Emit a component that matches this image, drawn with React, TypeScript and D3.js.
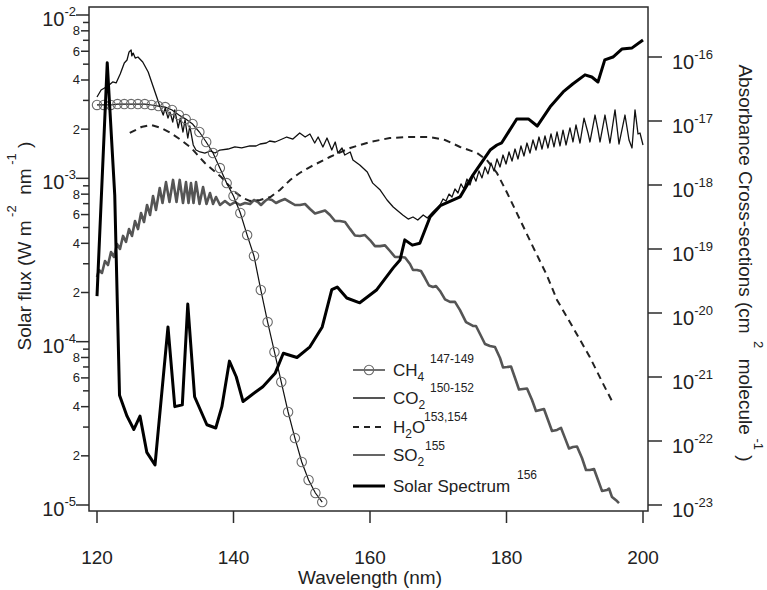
import React from 'react';
import * as d3 from 'd3';

type Pt = [number, number];

// Solar spectrum (W m^-2 nm^-1), left axis
const solarSpectrum: Pt[] = [
  [120.0, 1.9e-4], [121.5, 5.1e-3], [122.6, 7.9e-4], [123.3, 4.7e-5], [124.4, 3.5e-5], [125.4, 2.9e-5],
  [126.3, 3.5e-5], [127.3, 2.1e-5], [128.5, 1.76e-5], [130.4, 1.23e-4], [131.4, 4.0e-5], [132.5, 4.1e-5],
  [133.3, 1.7e-4], [134.3, 4.6e-5], [136.1, 3.1e-5], [137.4, 2.96e-5], [138.3, 4.0e-5], [139.4, 7.6e-5],
  [140.4, 6.1e-5], [141.4, 4.3e-5], [142.6, 4.7e-5], [144.3, 5.3e-5], [146.1, 6.4e-5], [147.3, 8.5e-5],
  [149.3, 8.0e-5], [151.2, 9.3e-5], [153.0, 1.23e-4], [154.4, 2.08e-4], [155.2, 2.16e-4], [156.6, 1.85e-4],
  [158.5, 1.73e-4], [161.0, 2.08e-4], [163.4, 2.83e-4], [164.4, 3.16e-4], [165.1, 4.2e-4], [166.2, 3.9e-4],
  [167.3, 4.0e-4], [168.8, 5.8e-4], [170.3, 6.8e-4], [173.2, 7.7e-4], [175.1, 1.05e-3], [177.6, 1.49e-3],
  [178.6, 1.6e-3], [179.3, 1.65e-3], [181.5, 2.31e-3], [183.2, 2.31e-3], [184.5, 2.09e-3], [186.4, 2.74e-3],
  [188.3, 3.38e-3], [189.7, 3.78e-3], [191.5, 4.3e-3], [192.5, 4.17e-3], [193.4, 3.89e-3], [194.4, 5.31e-3],
  [195.6, 5.53e-3], [196.9, 6.19e-3], [198.4, 6.29e-3], [200.0, 7.03e-3],
];

// CH4 cross-section (cm^2 molecule^-1), right axis
const ch4: Pt[] = [
  [120, 1.78e-17], [121, 1.78e-17], [122, 1.78e-17], [123, 1.84e-17], [124, 1.84e-17], [125, 1.84e-17],
  [126, 1.84e-17], [127, 1.84e-17], [128, 1.78e-17], [129, 1.71e-17], [130, 1.65e-17], [131, 1.49e-17],
  [132, 1.24e-17], [133, 1.07e-17], [134, 8.97e-18], [135, 6.73e-18], [136, 4.7e-18], [137, 3.16e-18],
  [138, 1.84e-18], [139, 1.07e-18], [140, 6.73e-19], [141, 3.65e-19], [142, 1.65e-19], [143, 7.78e-20],
  [144, 2.29e-20], [145, 7.22e-21], [146, 2.46e-21], [147, 8.35e-22], [148, 2.84e-22], [149, 1.11e-22],
  [150, 4.7e-23], [151, 2.46e-23], [152, 1.54e-23], [153, 1.11e-23],
];

// CO2 cross-section
const co2: Pt[] = [
  [120.0, 3.65e-20], [120.29, 4.7e-20], [120.73, 4.22e-20], [121.17, 6.5e-20], [121.61, 5.62e-20], [122.05, 8.97e-20],
  [122.49, 7.5e-20], [122.93, 1.2e-19], [123.37, 1.0e-19], [123.81, 1.6e-19], [124.25, 1.29e-19], [124.69, 2.05e-19],
  [125.13, 1.6e-19], [125.57, 2.74e-19], [126.01, 2.05e-19], [126.45, 3.65e-19], [126.89, 2.64e-19], [127.33, 4.87e-19],
  [127.77, 3.4e-19], [128.21, 6.73e-19], [128.64, 4.07e-19], [129.19, 8.97e-19], [129.6, 5.23e-19], [130.11, 1.11e-18],
  [130.62, 5.42e-19], [131.14, 1.2e-18], [131.65, 5.42e-19], [132.12, 1.2e-18], [132.6, 5.23e-19], [133.04, 1.11e-18],
  [133.41, 5.23e-19], [133.77, 1.07e-18], [134.14, 5.23e-19], [134.51, 1.11e-18], [135.02, 5.05e-19], [135.54, 9.31e-19],
  [136.04, 5.05e-19], [136.56, 7.5e-19], [137.0, 5.05e-19], [137.44, 6.5e-19], [138.02, 4.87e-19],
  [138.75, 5.62e-19], [139.49, 4.87e-19], [140.22, 5.42e-19], [140.95, 4.87e-19], [141.68, 5.23e-19],
  [142.42, 5.05e-19], [143.0, 5.83e-19], [143.59, 5.42e-19], [144.03, 4.87e-19], [144.62, 5.62e-19], [145.05, 6.04e-19],
  [145.64, 5.83e-19], [146.23, 5.23e-19], [146.81, 5.62e-19], [147.55, 6.04e-19], [148.28, 5.42e-19], [149.01, 4.87e-19],
  [149.74, 4.87e-19], [150.48, 5.05e-19], [151.21, 4.22e-19], [151.94, 3.59e-19], [152.67, 3.79e-19], [153.41, 4.0e-19],
  [154.14, 3.4e-19], [154.87, 2.74e-19], [155.6, 2.74e-19], [156.34, 2.64e-19], [157.07, 2.06e-19], [157.8, 1.63e-19],
  [158.53, 1.6e-19], [159.27, 1.65e-19], [160.0, 1.38e-19], [160.73, 1.11e-19], [161.47, 1.11e-19], [162.2, 1.14e-19],
  [162.93, 9.31e-20], [163.66, 7.5e-20], [164.4, 7.5e-20], [165.13, 7.36e-20], [165.86, 5.83e-20], [166.3, 4.7e-20],
  [166.89, 4.7e-20], [167.47, 4.53e-20], [168.06, 3.52e-20], [168.64, 2.69e-20], [169.23, 2.55e-20], [169.67, 2.64e-20],
  [170.26, 2.21e-20], [170.99, 1.63e-20], [171.72, 1.49e-20], [172.45, 1.49e-20], [173.19, 1.11e-20], [174.07, 7.22e-21],
  [175.09, 6.27e-21], [175.53, 6.27e-21], [176.12, 4.7e-21], [176.85, 3.28e-21], [177.58, 3.05e-21], [178.31, 2.94e-21],
  [179.05, 1.98e-21], [179.49, 1.41e-21], [180.07, 1.43e-21], [180.66, 1.46e-21], [181.25, 9.64e-22], [181.83, 6.38e-22],
  [182.42, 6.5e-22], [183.01, 6.61e-22], [183.74, 4.37e-22], [184.32, 2.94e-22], [184.91, 3.05e-22], [185.49, 3.16e-22],
  [186.08, 2.13e-22], [186.67, 1.43e-22], [187.4, 1.49e-22], [187.99, 1.6e-22], [188.57, 1.11e-22], [189.16, 7.64e-23],
  [189.74, 8.05e-23], [190.33, 8.2e-23], [191.06, 5.42e-23], [191.65, 3.52e-23], [192.23, 3.52e-23], [192.82, 3.65e-23],
  [193.41, 2.46e-23], [193.99, 1.66e-23], [194.73, 1.71e-23], [195.02, 1.81e-23], [195.46, 1.33e-23], [196.19, 1.15e-23],
  [196.48, 1.07e-23],
];

// H2O cross-section
const h2o: Pt[] = [
  [124.8, 6.5e-18], [126.5, 8.05e-18], [127.9, 8.67e-18], [129.4, 7.78e-18], [130.8, 6.5e-18], [132.3, 5.05e-18],
  [133.8, 3.79e-18], [135.8, 2.21e-18], [138.2, 1.33e-18], [140.2, 7.78e-19], [141.4, 6.27e-19], [142.4, 5.62e-19],
  [143.9, 5.83e-19], [145.4, 6.5e-19], [146.8, 8.35e-19], [148.3, 1.2e-18], [149.7, 1.54e-18], [151.2, 1.91e-18],
  [154.1, 2.74e-18], [157.1, 3.79e-18], [160.0, 4.7e-18], [162.9, 5.42e-18], [165.9, 5.62e-18], [168.8, 5.62e-18],
  [171.0, 5.05e-18], [173.2, 3.93e-18], [175.7, 3.16e-18], [177.1, 2.46e-18], [178.6, 1.54e-18], [180.1, 7.5e-19],
  [182.0, 2.84e-19], [183.9, 1.07e-19], [185.9, 3.93e-20], [187.4, 1.6e-20], [189.7, 6.04e-21], [192.2, 2.06e-21],
  [194.1, 8.05e-22], [195.6, 3.93e-22],
];

// SO2 cross-section
const so2: Pt[] = [
  [120.0, 2.37e-17], [120.6, 3.05e-17], [121.6, 3.52e-17], [122.3, 4.07e-17], [122.8, 3.93e-17], [123.4, 5.42e-17],
  [124.0, 8.05e-17], [124.4, 8.97e-17], [124.7, 1.2e-16], [125.0, 1.29e-16], [125.1, 1.04e-16], [125.3, 1.15e-16],
  [125.6, 9.64e-17], [126.0, 1.0e-16], [126.7, 8.35e-17], [127.5, 5.83e-17], [128.2, 3.52e-17], [128.8, 2.29e-17],
  [129.2, 1.71e-17], [129.7, 1.24e-17], [130.0, 1.6e-17], [130.4, 1.11e-17], [130.7, 1.38e-17], [131.1, 9.64e-18],
  [131.4, 1.49e-17], [131.9, 7.78e-18], [132.2, 1.11e-17], [132.6, 6.73e-18], [132.9, 1.04e-17], [133.3, 5.42e-18],
  [133.6, 8.35e-18], [134.1, 4.22e-18], [134.5, 3.52e-18], [135.1, 3.28e-18], [135.8, 3.16e-18], [136.6, 3.4e-18],
  [137.3, 3.16e-18], [138.0, 3.52e-18], [139.2, 3.65e-18], [140.2, 3.93e-18], [141.2, 3.79e-18], [142.4, 4.07e-18],
  [143.3, 4.07e-18], [143.9, 4.37e-18], [144.8, 4.53e-18], [145.3, 4.87e-18], [146.1, 4.7e-18], [146.8, 5.05e-18],
  [147.8, 5.62e-18], [148.7, 5.23e-18], [149.7, 6.5e-18], [150.5, 5.62e-18], [151.2, 6.27e-18], [151.9, 4.53e-18],
  [152.4, 5.62e-18], [153.1, 3.93e-18], [153.7, 5.42e-18], [154.4, 3.52e-18], [154.9, 4.7e-18], [155.3, 3.16e-18],
  [155.9, 3.79e-18], [156.3, 2.94e-18], [157.1, 3.28e-18], [157.5, 2.46e-18], [158.5, 2.06e-18], [159.6, 1.6e-18],
  [160.4, 1.07e-18], [161.5, 8.35e-19], [162.5, 5.83e-19], [163.4, 4.53e-19], [164.8, 3.4e-19], [165.6, 2.94e-19],
  [166.3, 3.16e-19], [167.0, 2.84e-19], [167.8, 3.4e-19], [168.4, 3.05e-19], [169.2, 3.79e-19],
  [170.26, 4.87e-19], [170.7, 6.04e-19], [171.14, 5.62e-19], [171.58, 7.22e-19], [172.01, 6.5e-19], [172.45, 8.66e-19],
  [172.89, 7.5e-19], [173.33, 1.04e-18], [173.77, 8.66e-19], [174.21, 1.24e-18], [174.65, 1.0e-18], [175.09, 1.43e-18],
  [175.53, 1.15e-18], [175.97, 1.66e-18], [176.41, 1.29e-18], [176.85, 1.91e-18], [177.29, 1.49e-18], [177.73, 2.21e-18],
  [178.17, 1.66e-18], [178.61, 2.55e-18], [179.05, 1.91e-18], [179.49, 2.94e-18], [179.93, 2.13e-18], [180.37, 3.28e-18],
  [180.81, 2.37e-18], [181.25, 3.65e-18], [181.68, 2.55e-18], [182.12, 4.07e-18], [182.56, 2.84e-18], [183.0, 4.53e-18],
  [183.44, 3.16e-18], [183.88, 5.05e-18], [184.32, 3.52e-18], [184.76, 5.62e-18], [185.2, 3.65e-18], [185.64, 5.83e-18],
  [186.08, 3.79e-18], [186.52, 6.27e-18], [186.96, 3.93e-18], [187.4, 6.73e-18], [187.84, 4.07e-18], [188.28, 7.22e-18],
  [188.72, 4.22e-18], [189.3, 7.78e-18], [189.74, 4.7e-18], [190.18, 8.66e-18], [190.77, 4.53e-18], [191.36, 1.11e-17],
  [191.94, 6.5e-18], [192.23, 4.7e-18], [192.97, 1.24e-17], [193.41, 7.22e-18], [193.7, 4.7e-18], [194.43, 1.24e-17],
  [194.87, 6.73e-18], [195.16, 4.53e-18], [195.9, 1.49e-17], [196.48, 4.37e-18], [197.36, 1.24e-17], [197.95, 5.05e-18],
  [198.39, 3.79e-18], [198.83, 1.49e-17], [199.27, 6.27e-18], [199.56, 6.5e-18], [200.0, 4.22e-18],
];

const xTickValues = [120, 140, 160, 180, 200];
const leftDecadeExps = [-5, -4, -3, -2];
const rightDecadeExps = [-23, -22, -21, -20, -19, -18, -17, -16];
const minorMultipliers = [2, 3, 4, 5, 6, 7, 8, 9];
const labeledMinor = [2, 4, 6, 8];

const legendItems = [
  { key: 'ch4', main: 'CH', sub: '4', rest: '', ref: '147-149' },
  { key: 'co2', main: 'CO', sub: '2', rest: '', ref: '150-152' },
  { key: 'h2o', main: 'H', sub: '2', rest: 'O', ref: '153,154' },
  { key: 'so2', main: 'SO', sub: '2', rest: '', ref: '155' },
  { key: 'solar', main: 'Solar Spectrum', sub: '', rest: '', ref: '156' },
];

const FONT = '"Liberation Sans", Arial, Helvetica, sans-serif';
const AX = '#2b2b2b';
const CO2_COLOR = '#555555';

export default function App() {
  const frame = { left: 89, right: 648, top: 7, bottom: 511 };
  const x = d3.scaleLinear().domain([120, 200]).range([97, 643]);
  const yL = d3.scaleLog().domain([1e-5, 1e-2]).range([505, 15]);
  const yR = d3.scaleLog().domain([1e-23, 1e-16]).range([505, 57]);

  const lineL = d3.line<Pt>().x(d => x(d[0])).y(d => yL(d[1]));
  const lineR = d3.line<Pt>().x(d => x(d[0])).y(d => yR(d[1]));

  const leftMinor: number[] = [];
  for (const e of [-5, -4, -3]) for (const m of minorMultipliers) leftMinor.push(m * Math.pow(10, e));

  const legX1 = 353, legX2 = 385, legText = 393;
  const legRows = [370, 398, 427, 455, 486];
  const refPos: [number, number][] = [[430, 363], [430, 392], [424, 421], [425, 450], [517, 479]];

  return (
    <svg width={767} height={590} style={{ position: 'absolute', left: 0, top: 0, background: '#fff' }}
      fontFamily={FONT}>
      <rect x={0} y={0} width={767} height={590} fill="#fff" />
      {/* data */}
      <path d={lineR(co2) || ''} fill="none" stroke={CO2_COLOR} strokeWidth={2.6} strokeLinejoin="round" />
      <path d={lineR(h2o) || ''} fill="none" stroke="#222" strokeWidth={2} strokeDasharray="7,5" />
      <path d={lineR(so2) || ''} fill="none" stroke="#111" strokeWidth={1.3} strokeLinejoin="round" />
      <path d={lineR(ch4) || ''} fill="none" stroke="#111" strokeWidth={1.2} />
      {ch4.map((d, i) => (
        <circle key={i} cx={x(d[0])} cy={yR(d[1])} r={4.7} fill="none" stroke="#6a6a6a" strokeWidth={1.1} />
      ))}
      <path d={lineL(solarSpectrum) || ''} fill="none" stroke="#000" strokeWidth={3} strokeLinejoin="round" />

      {/* frame */}
      <rect x={frame.left} y={frame.top} width={frame.right - frame.left} height={frame.bottom - frame.top}
        fill="none" stroke={AX} strokeWidth={1.5} />

      {/* x axis */}
      {xTickValues.map(v => (
        <g key={v}>
          <line x1={x(v)} x2={x(v)} y1={frame.bottom} y2={frame.bottom + 12} stroke={AX} strokeWidth={1.5} />
          <text x={x(v)} y={564} textAnchor="middle" fontSize={19} fill="#222">{v}</text>
        </g>
      ))}
      <text x={370} y={584} textAnchor="middle" fontSize={19} fill="#222">Wavelength (nm)</text>

      {/* left axis */}
      {leftDecadeExps.map(e => {
        const y = yL(Math.pow(10, e));
        return (
          <g key={e}>
            <line x1={frame.left - 13} x2={frame.left} y1={y} y2={y} stroke={AX} strokeWidth={1.5} />
            <text x={76} y={y + 11} textAnchor="end" fontSize={20} fill="#222">
              10<tspan dy={-10} fontSize={13}>{String(e)}</tspan>
            </text>
          </g>
        );
      })}
      {leftMinor.map((v, i) => {
        const y = yL(v);
        const m = Math.round(v / Math.pow(10, Math.floor(Math.log10(v) + 1e-9)));
        const lab = labeledMinor.includes(m);
        return (
          <g key={i}>
            <line x1={frame.left - (lab ? 8 : 6)} x2={frame.left} y1={y} y2={y} stroke={AX} strokeWidth={1.5} />
            {lab && (
              <text x={80} y={y + 4.5} textAnchor="end" fontSize={13} fill="#222">{m}</text>
            )}
          </g>
        );
      })}
      <text transform="translate(31,246) rotate(-90)" textAnchor="middle" fontSize={19} fill="#222">
        Solar flux (W m<tspan dy={-15} fontSize={13}>{'\u00A0-2'}</tspan>
        <tspan dy={15}>{'\u00A0\u00A0nm'}</tspan><tspan dy={-15} fontSize={13}>{'\u00A0-1'}</tspan>
        <tspan dy={15}>{'\u00A0)'}</tspan>
      </text>

      {/* right axis */}
      {rightDecadeExps.map(e => {
        const y = yR(Math.pow(10, e));
        return (
          <g key={e}>
            <line x1={frame.right} x2={frame.right + 14} y1={y} y2={y} stroke={AX} strokeWidth={1.5} />
            <text x={672} y={y + 12} textAnchor="start" fontSize={20} fill="#222">
              10<tspan dy={-10} fontSize={13}>{String(e)}</tspan>
            </text>
          </g>
        );
      })}
      <text transform="translate(739,263) rotate(90)" textAnchor="middle" fontSize={19} fill="#222">
        Absorbance Cross-sections (cm<tspan dy={-15} fontSize={13}>{'\u00A0\u00A02'}</tspan>
        <tspan dy={15}>{'\u00A0\u00A0molecule'}</tspan><tspan dy={-15} fontSize={13}>{'\u00A0-1'}</tspan>
        <tspan dy={15}>{'\u00A0)'}</tspan>
      </text>

      {/* legend */}
      {legendItems.map((it, i) => {
        const ly = legRows[i];
        return (
          <g key={it.key}>
            {it.key === 'ch4' && (
              <>
                <line x1={legX1} x2={legX2} y1={ly} y2={ly} stroke="#111" strokeWidth={1.2} />
                <circle cx={(legX1 + legX2) / 2} cy={ly} r={4.7} fill="none" stroke="#6a6a6a" strokeWidth={1.1} />
              </>
            )}
            {it.key === 'co2' && <line x1={legX1} x2={legX2} y1={ly} y2={ly} stroke={CO2_COLOR} strokeWidth={2} />}
            {it.key === 'h2o' && (
              <line x1={legX1} x2={legX2} y1={ly} y2={ly} stroke="#222" strokeWidth={2} strokeDasharray="6,5" />
            )}
            {it.key === 'so2' && <line x1={legX1} x2={legX2} y1={ly} y2={ly} stroke="#111" strokeWidth={1.3} />}
            {it.key === 'solar' && <line x1={legX1} x2={legX2} y1={ly} y2={ly} stroke="#000" strokeWidth={3} />}
            <text x={legText} y={ly + 6} fontSize={17} fill="#222">
              {it.main}
              {it.sub && <tspan dy={5} fontSize={12}>{it.sub}</tspan>}
              {it.rest && <tspan dy={-5}>{it.rest}</tspan>}
            </text>
            <text x={refPos[i][0]} y={refPos[i][1]} fontSize={12} fill="#222">{it.ref}</text>
          </g>
        );
      })}
    </svg>
  );
}
